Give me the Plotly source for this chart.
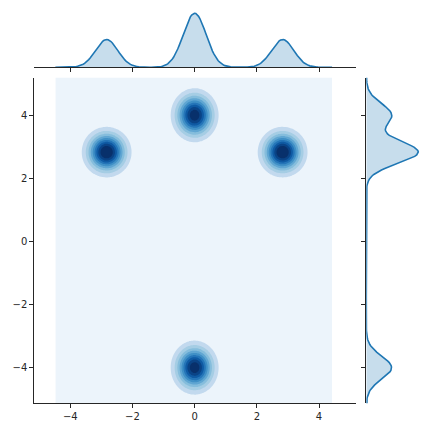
import numpy as np
import plotly.graph_objects as go

# ---- data ----
blob_x = [0.0, -2.83, 2.83, 0.0]
blob_y = [4.0, 2.83, 2.83, -4.0]
blob_weight = [0.25, 0.25, 0.25, 0.25]
blob_sx = [0.36, 0.37, 0.37, 0.36]
blob_sy = [0.40, 0.37, 0.37, 0.40]
marg_sx = [0.37, 0.36, 0.36, 0.37]
marg_sy = [0.37, 0.36, 0.36, 0.37]

grid_x_range = [-4.48, 4.42]
grid_y_range = [-5.7, 5.7]
contour_levels = [0.028, 0.056, 0.084, 0.112, 0.14, 0.168, 0.196, 0.224, 0.252]
band_colors = ["rgb(236,244,251)", "rgb(194,217,238)", "rgb(165,205,228)",
               "rgb(133,189,220)", "rgb(96,166,210)", "rgb(64,144,198)",
               "rgb(37,117,184)", "rgb(15,90,163)", "rgb(10,67,134)",
               "rgb(8,48,107)"]
tick_vals = [-4, -2, 0, 2, 4]
tick_text = ["\u22124", "\u22122", "0", "2", "4"]

# ---- density surfaces ----
gx = np.linspace(grid_x_range[0], grid_x_range[1], 200)
gy = np.linspace(grid_y_range[0], grid_y_range[1], 240)
XX, YY = np.meshgrid(gx, gy)
Z = np.zeros_like(XX)
for cx, cy, w, sx, sy in zip(blob_x, blob_y, blob_weight, blob_sx, blob_sy):
    Z += w / (2 * np.pi * sx * sy) * np.exp(-0.5 * (((XX - cx) / sx) ** 2 + ((YY - cy) / sy) ** 2))

dx = np.zeros_like(gx)
for cx, w, sx in zip(blob_x, blob_weight, marg_sx):
    dx += w / (np.sqrt(2 * np.pi) * sx) * np.exp(-0.5 * ((gx - cx) / sx) ** 2)
dy = np.zeros_like(gy)
for cy, w, sy in zip(blob_y, blob_weight, marg_sy):
    dy += w / (np.sqrt(2 * np.pi) * sy) * np.exp(-0.5 * ((gy - cy) / sy) ** 2)

nc = len(contour_levels)
colorscale = [[j / nc, c] for j, c in enumerate(band_colors)]
step = contour_levels[1] - contour_levels[0]

line_col = "#1f77b4"
fill_col = "rgba(31,119,180,0.25)"
ink = "#262626"

fig = go.Figure()
fig.add_trace(go.Contour(
    x=gx, y=gy, z=Z, xaxis="x", yaxis="y",
    autocontour=False,
    contours=dict(start=contour_levels[0], end=contour_levels[-1], size=step, coloring="fill"),
    colorscale=colorscale, showscale=False, line=dict(width=0, smoothing=0), hoverinfo="skip",
))
fig.add_trace(go.Scatter(x=gx, y=dx, xaxis="x2", yaxis="y2", mode="lines",
                         line=dict(color=line_col, width=1.6), fill="tozeroy",
                         fillcolor=fill_col, hoverinfo="skip"))
fig.add_trace(go.Scatter(x=dy, y=gy, xaxis="x3", yaxis="y3", mode="lines",
                         line=dict(color=line_col, width=1.6), fill="tozerox",
                         fillcolor=fill_col, hoverinfo="skip"))

W = H = 432.0
xd = [34.3 / W, 355.7 / W]
yd = [1 - 403.3 / H, 1 - 77.7 / H]
xr = [-5.157, 5.18]
yr = [-5.13, 5.19]
font = dict(family="DejaVu Sans", size=10, color=ink)
common = dict(showgrid=False, zeroline=False, showline=True, linecolor=ink, linewidth=1,
              ticks="outside", ticklen=4, tickwidth=1, tickcolor=ink, tickfont=font)

fig.update_layout(
    template="none",
    font=font,
    width=432, height=432, margin=dict(l=0, r=0, t=0, b=0, pad=0),
    paper_bgcolor="white", plot_bgcolor="rgba(0,0,0,0)", showlegend=False,
    xaxis=dict(domain=xd, range=xr, anchor="y", tickvals=tick_vals, ticktext=tick_text, **common),
    yaxis=dict(domain=yd, range=yr, anchor="x", tickvals=tick_vals, ticktext=tick_text, **common),
    xaxis2=dict(domain=xd, range=xr, anchor="y2", tickvals=tick_vals, showticklabels=False, **common),
    yaxis2=dict(domain=[1 - 67.3 / H, 1 - 10.6 / H], range=[0, 1.05 * dx.max()], anchor="x2",
                visible=False, showgrid=False, zeroline=False),
    xaxis3=dict(domain=[366.3 / W, 420.9 / W], range=[0, 1.05 * dy.max()], anchor="y3",
                visible=False, showgrid=False, zeroline=False),
    yaxis3=dict(domain=yd, range=yr, anchor="x3", tickvals=tick_vals, showticklabels=False, **common),
)

fig.write_html("out.html", config={"displayModeBar": False, "staticPlot": True},
               post_script="document.body.style.margin='0';document.body.style.overflow='hidden';")
